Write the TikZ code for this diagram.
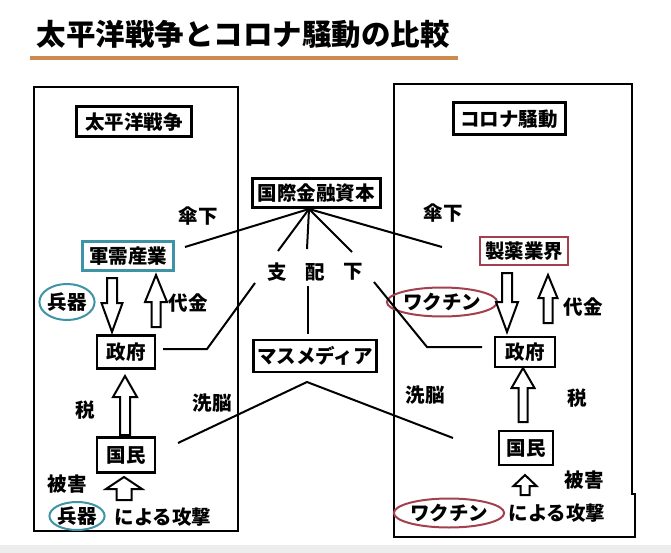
\documentclass[tikz,border=0pt]{standalone}
\usepackage{fontspec}
\setmainfont{Noto Sans CJK JP}
\usetikzlibrary{shapes.geometric}
\definecolor{tealc}{HTML}{3F93A6}
\definecolor{winec}{HTML}{A2404E}
\definecolor{underc}{HTML}{CC8A4E}
\newcommand\blkarrow[6]{% x, tip, base, end, headhalf, shafthalf
  \draw[arrowbody] (#1,#2) -- ({#1+#5},#3) -- ({#1+#6},#3) -- ({#1+#6},#4)
    -- ({#1-#6},#4) -- ({#1-#6},#3) -- ({#1-#5},#3) -- cycle;}
\begin{document}
\begin{tikzpicture}[x=1pt,y=-1pt,
  font=\bfseries\fontsize{19.5}{21}\selectfont,
  box/.style={draw, line width=2.4pt, inner sep=0pt},
  thickbox/.style={draw, line width=3pt, inner sep=0pt},
  lbl/.style={inner sep=0pt},
  conn/.style={line width=2pt},
  frame/.style={line width=1.3pt},
  arrowbody/.style={draw, line width=2pt, fill=white, line join=miter},
  circ/.style={ellipse, draw, line width=2pt, inner sep=0pt}]
\useasboundingbox (0,0) rectangle (671,553);
\fill[black!7] (0,545) rectangle (671,553);

% title
\node[lbl] (title) at (243,34) {\fontsize{29.5}{32}\selectfont 太平洋戦争とコロナ騒動の比較};
\coordinate (ul1) at (30,58);
\coordinate (ul2) at (458,58);
\draw[underc, line width=4pt] (ul1) -- (ul2);

% panels
\draw[frame] (34,87) rectangle (238,531);
\draw[frame] (394,84) -- (632,84) -- (632,494) -- (635,494) -- (635,537) -- (394,537) -- cycle;

% center
\node[thickbox, minimum width=128, minimum height=29] (fin) at (316,193) {国際金融資本};
\node[lbl] (shi) at (277,272) {支};
\node[lbl] (hai) at (315,272) {配};
\node[lbl] (ka) at (353,272) {下};
\node[box, minimum width=123, minimum height=32] (media) at (315,356) {マスメディア};

% left panel
\node[thickbox, minimum width=115, minimum height=30] (tw) at (134,122) {太平洋戦争};
\node[lbl] (sanL) at (198,216) {傘下};
\node[box, draw=tealc, minimum width=91, minimum height=29] (gun) at (128,256) {軍需産業};
\node[circ, draw=tealc, minimum width=47, minimum height=36] (heiki1) at (67,302) {兵器};
\node[lbl] (daiL) at (188,303) {代金};
\node[box, minimum width=58, minimum height=33] (gov1) at (126,352) {政府};
\node[lbl] (zeiL) at (85,410) {税};
\node[lbl] (senL) at (212,403) {洗脳};
\node[box, minimum width=58, minimum height=35] (kok1) at (126,455) {国民};
\node[lbl] (higL) at (67,484) {被害};
\node[circ, draw=tealc, minimum width=49, minimum height=28] (heiki2) at (77,516) {兵器};
\node[lbl] (kouL) at (163,517) {による攻撃};

% right panel
\node[thickbox, minimum width=112, minimum height=32] (cr) at (509,119) {コロナ騒動};
\node[lbl] (sanR) at (443,213) {傘下};
\node[box, draw=winec, minimum width=88, minimum height=28] (sei) at (524,251) {製薬業界};
\node[circ, draw=winec, minimum width=85, minimum height=29] (vac1) at (442,302) {ワクチン};
\node[lbl] (daiR) at (583,307) {代金};
\node[box, minimum width=60, minimum height=30] (gov2) at (525,352) {政府};
\node[lbl] (zeiR) at (577,398) {税};
\node[lbl] (senR) at (425,395) {洗脳};
\node[box, minimum width=54, minimum height=34] (kok2) at (526,448) {国民};
\node[lbl] (higR) at (584,480) {被害};
\node[circ, draw=winec, minimum width=84, minimum height=29] (vac2) at (449,513) {ワクチン};
\node[lbl] (kouR) at (557,513) {による攻撃};

% connectors from fin
\coordinate (hub) at (309,209);
\coordinate (l1) at (185,247);
\coordinate (s1) at (278,251);
\coordinate (s2) at (307,249);
\coordinate (s3) at (352,252);
\coordinate (r1) at (442,247);
\draw[conn] (l1) -- (hub) -- (r1);
\draw[conn] (hub) -- (s1);
\draw[conn] (hub) -- (s2);
\draw[conn] (hub) -- (s3);

\coordinate (s1b) at (255,283);
\coordinate (k1) at (207,349);
\draw[conn] (s1b) -- (k1) -- (163,349);
\coordinate (s2b) at (308,286);
\draw[conn] (s2b) -- (308,334);
\coordinate (s3b) at (374,282);
\coordinate (k3) at (427,347);
\draw[conn] (s3b) -- (k3) -- (482,347);

\coordinate (apex) at (307,382);
\coordinate (mL) at (178,443);
\coordinate (mR) at (453,438);
\draw[conn] (mL) -- (apex) -- (mR);

% block arrows left
\blkarrow{112}{332}{303}{278}{10.5}{5}
\blkarrow{156}{275}{302}{327}{11}{4.5}
\blkarrow{125}{376}{397}{435}{12}{5}
\blkarrow{124}{477}{489}{500}{18}{7.5}
% block arrows right
\blkarrow{507}{332}{302}{273}{11}{5}
\blkarrow{548}{275}{298}{323}{9.5}{4.5}
\blkarrow{523}{368}{388}{422}{11.5}{4.5}
\blkarrow{525}{475}{486}{495}{11.5}{4.5}
\end{tikzpicture}
\end{document}
